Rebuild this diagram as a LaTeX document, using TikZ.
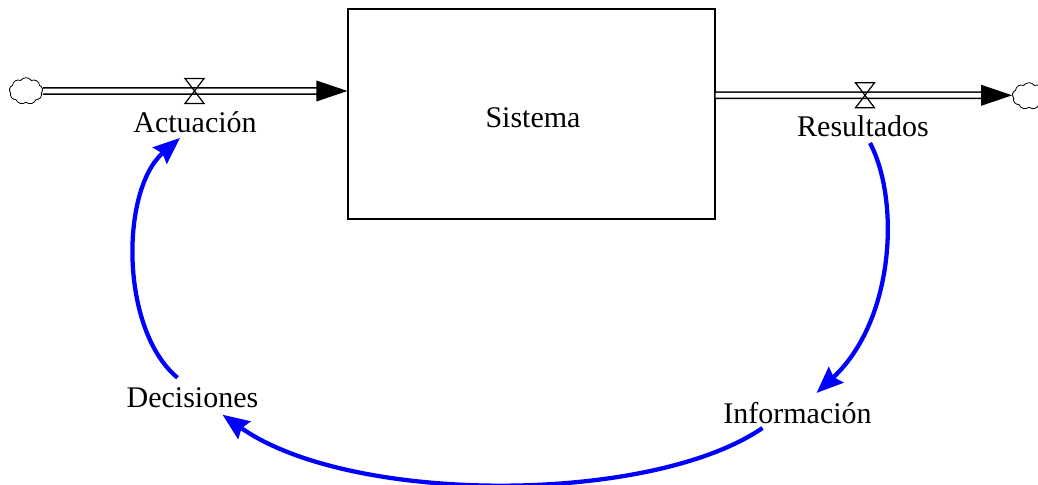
\documentclass[tikz,border=0pt]{standalone}
\usepackage{fontspec}
\setmainfont{Liberation Serif}
\usetikzlibrary{arrows.meta,calc,shapes.symbols}
\begin{document}
\begin{tikzpicture}[x=0.75pt,y=-0.75pt,
  lbl/.style={anchor=base,inner sep=0pt,font=\fontsize{22.5}{27}\selectfont},
  stock/.style={draw,line width=0.9pt,minimum width=275.25pt,minimum height=157.5pt,inner sep=0pt},
  src/.style={cloud,cloud puffs=9,cloud puff arc=110,draw,line width=0.6pt,minimum width=25pt,minimum height=20pt,inner sep=0pt,aspect=1.3},
  pipe/.style={draw,double,line width=1.1pt,double distance=3.6pt},
  valve/.style={draw,line width=0.9pt,fill=none},
  fb/.style={draw=blue,line width=3.2pt,-{Stealth[length=20pt,width=16pt,inset=2.5pt]}}
]
\useasboundingbox (0,0) rectangle (1038,485);

% stock and its name
\node[stock] (sys) at (531.5,114) {};
\node[lbl] (systxt) at (533,127) {Sistema};

% source and sink
\node[src] (srcL) at (26,91) {};
\node[src] (snkR) at (1029,96) {};

% flow points on the stock
\coordinate (inL) at ($(sys.west)+(0,-23)$);
\coordinate (outR) at ($(sys.east)+(0,-18.7)$);
\coordinate (tipR) at ($(snkR.west)+(0,-0.7)$);

% pipes with their heads
\draw[pipe] (srcL.east) -- ($(inL)+(-30,0)$);
\draw[pipe] (outR) -- ($(tipR)+(-30,0)$);
\fill ($(inL)+(-31,-10.5)$) -- (inL) -- ($(inL)+(-31,10.5)$) -- cycle;
\fill ($(tipR)+(-31,-10.5)$) -- (tipR) -- ($(tipR)+(-31,10.5)$) -- cycle;

% valves
\coordinate (vL) at (194.5,91);
\coordinate (vR) at (865,95.3);
\draw[valve] ($(vL)+(-9.5,-12.5)$) -- ++(19,0) -- ++(-19,25) -- ++(19,0) -- cycle;
\draw[valve] ($(vR)+(-9.5,-12.5)$) -- ++(19,0) -- ++(-19,25) -- ++(19,0) -- cycle;

% labels
\node[lbl] (act) at (195,132) {Actuación};
\node[lbl] (res) at (863,136) {Resultados};
\node[lbl] (dec) at (192.5,407.7) {Decisiones};
\node[lbl] (inf) at (797.5,423) {Información};

% feedback links
\draw[fb] ($(res.base)+(7,7)$) .. controls (900,200) and (895,320) .. ($(inf.base)+(19,-30)$);
\draw[fb] ($(inf.base)+(-35,5)$) .. controls (650,505) and (350,505) .. ($(dec.base)+(30,7)$);
\draw[fb] ($(dec.base)+(-15,-30)$) .. controls (120,330) and (120,190) .. ($(act.base)+(-15,6)$);
\end{tikzpicture}
\end{document}
